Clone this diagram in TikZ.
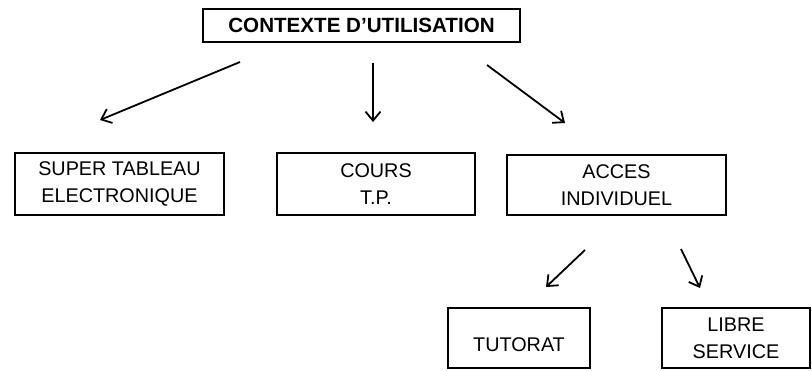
\documentclass[tikz,border=0pt]{standalone}
\usepackage{fontspec}
\setmainfont{Liberation Sans}
\usetikzlibrary{arrows.meta}
\begin{document}
\begin{tikzpicture}[x=1pt,y=-1pt,
  box/.style={draw,line width=1.5pt,inner sep=0pt,align=center,
    font=\fontsize{19.8}{27}\selectfont},
  link/.style={line width=1.8pt,-{Straight Barb[length=9pt,width=15pt,line width=1.8pt]}}]
\useasboundingbox (0,0) rectangle (812,370);
% root
\node[box,minimum width=317pt,minimum height=33pt,
  font=\fontsize{20.6}{27}\selectfont\bfseries] (ctx) at (361.5,25.5) {CONTEXTE D'UTILISATION};
% second level
\node[box,minimum width=209pt,minimum height=62pt] (stab) at (119.5,184) {SUPER TABLEAU\\ELECTRONIQUE};
\node[box,minimum width=198pt,minimum height=62pt] (cours) at (376,184) {COURS\\T.P.};
\node[box,minimum width=219pt,minimum height=60pt] (acces) at (616.5,185) {ACCES\\INDIVIDUEL};
% third level
\node[box,minimum width=142pt,minimum height=60pt] (tut) at (519,338) {\mbox{}\\TUTORAT};
\node[box,minimum width=148pt,minimum height=60pt] (libre) at (736,338) {LIBRE\\SERVICE};
% free arrow ends
\coordinate (a1s) at (240,62);  \coordinate (a1e) at (100,120);
\coordinate (a2s) at (373,63);  \coordinate (a2e) at (373,122);
\coordinate (a3s) at (487,65);  \coordinate (a3e) at (565,123);
\coordinate (b1s) at (585,250); \coordinate (b1e) at (546,287);
\coordinate (b2s) at (681,249); \coordinate (b2e) at (700,288);
\draw[link] (a1s) -- (a1e);
\draw[link] (a2s) -- (a2e);
\draw[link] (a3s) -- (a3e);
\draw[link] (b1s) -- (b1e);
\draw[link] (b2s) -- (b2e);
\end{tikzpicture}
\end{document}
